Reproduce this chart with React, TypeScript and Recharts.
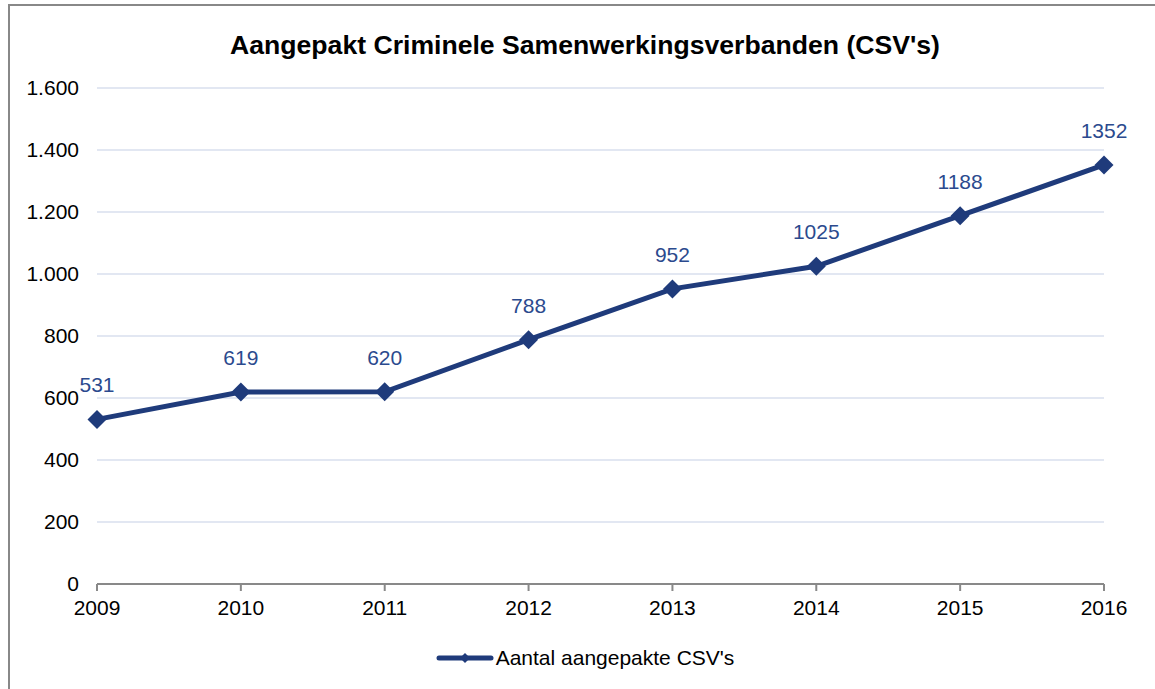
import React from 'react';
import {
  LineChart, Line, XAxis, YAxis, CartesianGrid, Legend, LabelList,
} from 'recharts';

const years = ['2009', '2010', '2011', '2012', '2013', '2014', '2015', '2016'];
const aangepakt = [531, 619, 620, 788, 952, 1025, 1188, 1352];
const yTicks = [0, 200, 400, 600, 800, 1000, 1200, 1400, 1600];

const data = years.map((jaar, i) => ({ jaar, aantal: aangepakt[i] }));

const NAVY = '#1F3B7B';
const FONT = '"Liberation Sans", Arial, sans-serif';

const Diamond = (props: any) => {
  const { cx, cy } = props;
  if (cx == null || cy == null) return null;
  const r = 9.5;
  return (
    <polygon
      points={`${cx},${cy - r} ${cx + r},${cy} ${cx},${cy + r} ${cx - r},${cy}`}
      fill={NAVY}
    />
  );
};

const formatTick = (v: number) => v.toLocaleString('nl-NL');

const LegendContent = () => (
  <div style={{ display: 'flex', justifyContent: 'center', alignItems: 'center', fontFamily: FONT, fontSize: 21, lineHeight: '24px', color: '#000' }}>
    <svg width={58} height={14} style={{ marginRight: 2 }}>
      <line x1={3} y1={7} x2={55} y2={7} stroke={NAVY} strokeWidth={5} strokeLinecap="round" />
      <polygon points="29,2 34,7 29,12 24,7" fill={NAVY} />
    </svg>
    <span>Aantal aangepakte CSV's</span>
  </div>
);

const App: React.FC = () => {
  return (
    <div
      style={{
        position: 'absolute', top: 4, left: 8, width: 1160, height: 700,
        border: '2px solid #888', background: '#fff', fontFamily: FONT,
      }}
    >
      <div
        style={{
          position: 'absolute', top: 24, left: 0, width: 1150, textAlign: 'center',
          fontWeight: 'bold', fontSize: 26.6, lineHeight: '30px', color: '#000',
        }}
      >
        Aangepakt Criminele Samenwerkingsverbanden (CSV's)
      </div>
      <LineChart
        width={1150}
        height={690}
        data={data}
        margin={{ top: 82, right: 56, left: 27, bottom: 48 }}
      >
        <CartesianGrid vertical={false} stroke="#D9DFEE" strokeWidth={1.5} />
        <XAxis
          dataKey="jaar"
          stroke="#898989"
          strokeWidth={2}
          tickSize={7}
          tickMargin={9}
          height={40}
          tick={{ fill: '#000', fontSize: 21, fontFamily: FONT }}
        />
        <YAxis
          domain={[0, 1600]}
          ticks={yTicks}
          tickFormatter={formatTick}
          axisLine={false}
          tickLine={false}
          width={60}
          tickMargin={12}
          tick={{ fill: '#000', fontSize: 21, fontFamily: FONT }}
        />
        <Legend
          verticalAlign="bottom"
          content={<LegendContent />}
          wrapperStyle={{ bottom: 26, left: 0, width: 1150 }}
        />
        <Line
          type="linear"
          dataKey="aantal"
          name="Aantal aangepakte CSV's"
          stroke={NAVY}
          strokeWidth={5}
          dot={<Diamond />}
          activeDot={false}
          isAnimationActive={false}
        >
          <LabelList
            dataKey="aantal"
            position="top"
            offset={27}
            fill="#2B4A8E"
            fontSize={21}
            fontFamily={FONT}
          />
        </Line>
      </LineChart>
    </div>
  );
};

export default App;
